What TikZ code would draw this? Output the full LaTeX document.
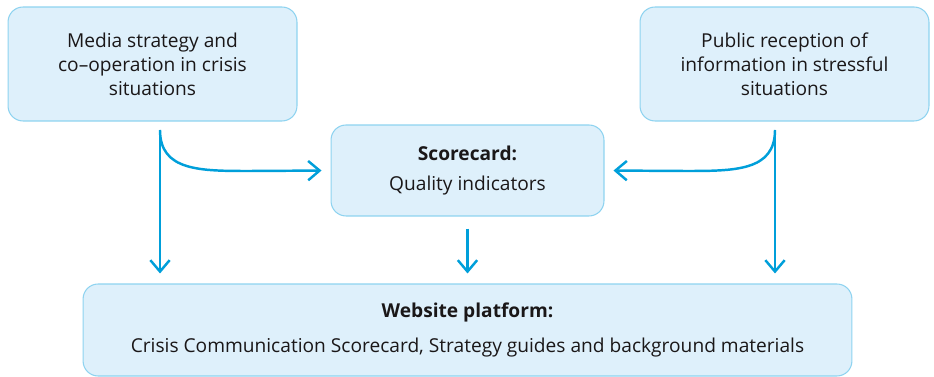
\documentclass[tikz,border=0pt]{standalone}
\usepackage{fontspec}
\setmainfont{Open Sans}
\usetikzlibrary{arrows.meta}
\definecolor{boxfill}{HTML}{DEF0FB}
\definecolor{boxline}{HTML}{8ED3F0}
\definecolor{flowblue}{HTML}{009FDA}
\definecolor{ink}{HTML}{1A1718}
\tikzset{
    panel/.style={draw=boxline, fill=boxfill, line width=0.6pt, rounded corners=0.3cm,
        align=center, text=ink, font=\fontsize{10.9pt}{13.6pt}\selectfont, inner sep=0pt},
    flow/.style={draw=flowblue, line width=1.4pt,
        -{Straight Barb[length=6.5pt,width=11pt,line width=1.4pt]}}
}
\begin{document}
\begin{tikzpicture}[x=0.02cm,y=-0.02cm]
    \useasboundingbox (0,0) rectangle (934,377);
    \node[panel, minimum width=5.78cm, minimum height=2.28cm] (media) at (152.5,64)
        {Media strategy and\\co--operation in crisis\\situations};
    \node[panel, minimum width=5.78cm, minimum height=2.28cm] (public) at (784.5,64)
        {Public reception of\\information in stressful\\situations};
    \node[panel, minimum width=5.46cm, minimum height=1.82cm] (score) at (467.5,170.5)
        {\textbf{Scorecard:}\\[3pt]Quality indicators};
    \node[panel, minimum width=15.38cm, minimum height=1.84cm] (web) at (467.5,330)
        {\textbf{Website platform:}\\[6pt]Crisis Communication Scorecard, Strategy guides and background materials};
    % start points below the upper boxes
    \coordinate (ms) at (160,130);
    \coordinate (pr) at (775,130);
    \draw[flow, shorten >=0.2cm] (ms) -- (ms |- web.north);
    \draw[flow, shorten >=0.2cm] (pr) -- (pr |- web.north);
    \draw[flow, shorten >=0.18cm] (ms) .. controls (160,171) and (200,171) .. (250,171) -- (score.west);
    \draw[flow, shorten >=0.18cm] (pr) .. controls (775,171) and (735,171) .. (685,171) -- (score.east);
    \draw[flow, shorten <=0.24cm, shorten >=0.2cm] (score.south) -- (web.north -| score.south);
\end{tikzpicture}
\end{document}
